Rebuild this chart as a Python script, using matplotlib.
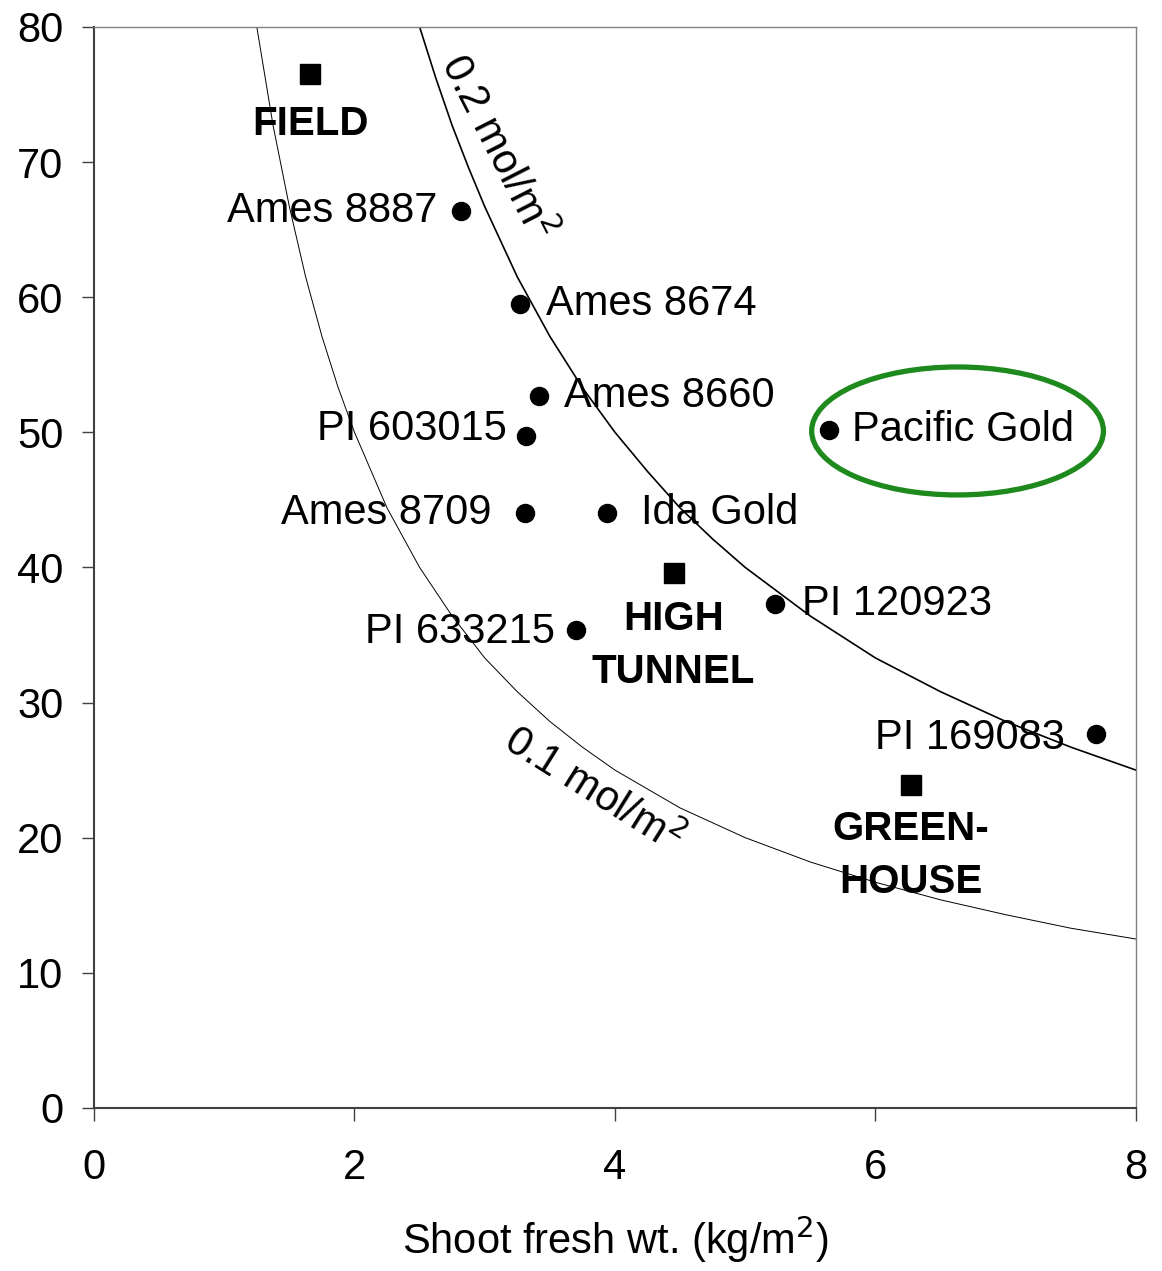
import matplotlib
matplotlib.use('Agg')
import matplotlib.pyplot as plt
from matplotlib.patches import Ellipse

plt.rcParams['font.family'] = ['Liberation Sans', 'DejaVu Sans']

# cultivar points
names = ['Ames 8887', 'Ames 8674', 'Ames 8660', 'PI 603015', 'Pacific Gold',
         'Ames 8709', 'Ida Gold', 'PI 120923', 'PI 633215', 'PI 169083']
fresh = [2.82, 3.27, 3.42, 3.32, 5.64, 3.31, 3.94, 5.23, 3.70, 7.69]
yld = [66.4, 59.5, 52.7, 49.7, 50.2, 44.0, 44.0, 37.3, 35.4, 27.7]

# growing environments
env_names = ['FIELD', 'HIGH\nTUNNEL', 'GREEN-\nHOUSE']
env_fresh = [1.66, 4.45, 6.27]
env_yld = [76.5, 39.6, 23.9]

# iso-lines
c2_x = [2.5, 2.625, 2.75, 2.875, 3.0, 3.25, 3.5, 3.75, 4.0, 4.25, 4.5, 4.75,
        5.0, 5.5, 6.0, 6.5, 7.0, 7.5, 8.0]
c2_y = [80, 76.2, 72.7, 69.6, 66.7, 61.5, 57.1, 53.3, 50.0, 47.1, 44.4, 42.1,
        40.0, 36.4, 33.3, 30.8, 28.6, 26.7, 25.0]
c1_x = [1.25, 1.375, 1.5, 1.625, 1.75, 1.875, 2.0, 2.25, 2.5, 2.75, 3.0, 3.25,
        3.5, 3.75, 4.0, 4.5, 5.0, 5.5, 6.0, 6.5, 7.0, 7.5, 8.0]
c1_y = [80, 72.7, 66.7, 61.5, 57.1, 53.3, 50.0, 44.4, 40.0, 36.4, 33.3, 30.8,
        28.6, 26.7, 25.0, 22.2, 20.0, 18.2, 16.7, 15.4, 14.3, 13.3, 12.5]

# label offsets (points) and alignment
offs = [(-17, 0, 'right'), (19, 0, 'left'), (18, 0, 'left'), (-14, 5, 'right'),
        (17, 0, 'left'), (-24, 0, 'right'), (24, 0, 'left'), (19, 0, 'left'),
        (-15, -2, 'right'), (-22, -3, 'right')]
env_offs = [(0, -36), (0, -52), (0, -51)]

fig = plt.figure(figsize=(11.62, 12.71), dpi=100)
ax = fig.add_axes([0.0809, 0.1283, 0.8967, 0.8505])

ax.plot(c2_x, c2_y, color='black', lw=1.2)
ax.plot(c1_x, c1_y, color='black', lw=0.7)

ax.plot(fresh, yld, 'o', color='black', ms=13)
ax.plot(env_fresh, env_yld, 's', color='black', ms=15)

for n, x, y, (dx, dy, ha) in zip(names, fresh, yld, offs):
    ax.annotate(n, (x, y), xytext=(dx, dy), textcoords='offset points',
                ha=ha, va='center', fontsize=30)

for n, x, y, (dx, dy) in zip(env_names, env_fresh, env_yld, env_offs):
    ax.annotate(n, (x, y), xytext=(dx, dy), textcoords='offset points',
                ha='center', va='center', fontsize=29, fontweight='bold',
                linespacing=1.5)

ax.text(3.09, 71.1, '0.2 mol/m$^2$', rotation=-63, fontsize=30,
        ha='center', va='center', rotation_mode='anchor')
ax.text(3.83, 23.5, '0.1 mol/m$^2$', rotation=-32, fontsize=30,
        ha='center', va='center', rotation_mode='anchor')

ax.add_patch(Ellipse((6.63, 50.1), 2.24, 9.47, fill=False,
                     edgecolor='#1e8a1e', lw=3.8))

ax.set_xlim(0, 8)
ax.set_ylim(0, 80)
ax.set_xticks([0, 2, 4, 6, 8])
ax.set_yticks(range(0, 81, 10))
ax.tick_params(direction='out', length=9, width=1, labelsize=30, color='#404040')
ax.tick_params(axis='x', pad=20)
ax.tick_params(axis='y', pad=13)
ax.set_xlabel('Shoot fresh wt. (kg/m$^2$)', fontsize=30, labelpad=18)

for s in ['left', 'bottom']:
    ax.spines[s].set_color('#404040')
    ax.spines[s].set_linewidth(1.5)
for s in ['top', 'right']:
    ax.spines[s].set_color('#808080')
    ax.spines[s].set_linewidth(1)

fig.savefig('out.png', dpi=100)
